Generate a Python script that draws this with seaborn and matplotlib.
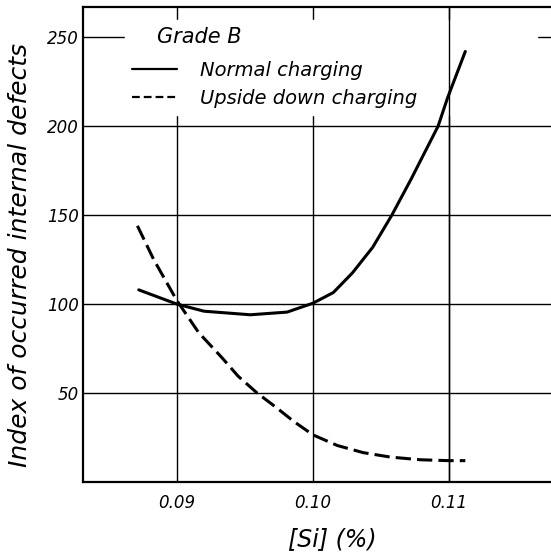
import matplotlib
matplotlib.use("Agg")
import matplotlib.pyplot as plt
from matplotlib.lines import Line2D
import numpy as np
import pandas as pd
import seaborn as sns

# ---- data ----
normal_si = [0.0872, 0.0900, 0.0920, 0.0954, 0.0981, 0.1000, 0.1015, 0.1029,
             0.1044, 0.1058, 0.1072, 0.1084, 0.1092, 0.1099, 0.1112]
normal_idx = [108, 100, 96, 94, 95.5, 100.5, 106.5, 117.5,
              132, 150, 170, 188, 200, 216, 242]

upside_si = [0.0871, 0.0883, 0.0900, 0.0916, 0.0933, 0.0945, 0.0959, 0.0972,
             0.0986, 0.1000, 0.1018, 0.1037, 0.1057, 0.1079, 0.1100, 0.1112]
upside_idx = [144, 125, 102, 84, 70, 59.5, 50, 42.5,
              34, 26.5, 20.5, 16.5, 14, 12.5, 12, 12]

series_names = ["Normal charging", "Upside down charging"]
legend_title = "Grade B"
x_ticks = [0.09, 0.10, 0.11]
x_tick_labels = ["0.09", "0.10", "0.11"]
y_ticks = [50, 100, 150, 200, 250]
y_tick_labels = ["50", "100", "150", "200", "250"]
x_label = "[Si] (%)"
y_label = "Index of occurred internal defects"

df = pd.concat([
    pd.DataFrame({"si": normal_si, "idx": normal_idx, "series": series_names[0]}),
    pd.DataFrame({"si": upside_si, "idx": upside_idx, "series": series_names[1]}),
], ignore_index=True)

sns.set_theme(style="white")
plt.rcParams['font.family'] = ['DejaVu Sans']
for key in ['text.color', 'axes.labelcolor', 'xtick.color', 'ytick.color']:
    plt.rcParams[key] = 'black'

fig = plt.figure(figsize=(5.51, 5.52), dpi=100)
ax = fig.add_axes([83 / 551, 70 / 552, 468 / 551, 475 / 552])

dash_style = {series_names[0]: "", series_names[1]: (5, 2.0)}
sns.lineplot(data=df, x="si", y="idx", style="series", dashes=dash_style,
             color="black", lw=2.2, legend=False, ax=ax, estimator=None,
             zorder=4)

ax.set_xlim(0.0831, 0.1175)
ax.set_ylim(0, 267)
ax.set_xticks(x_ticks)
ax.set_xticklabels(x_tick_labels, fontsize=12, style='italic')
ax.set_yticks(y_ticks)
ax.set_yticklabels(y_tick_labels, fontsize=12, style='italic')
ax.tick_params(axis='both', length=0, colors='black')
ax.tick_params(axis='x', pad=9)
ax.tick_params(axis='y', pad=3)

ax.grid(True, color='black', lw=1.0)
ax.set_axisbelow(True)
for side in ['left', 'bottom', 'top']:
    ax.spines[side].set_color('black')
    ax.spines[side].set_linewidth(1.6)
ax.spines['right'].set_visible(False)

ax.set_xlabel(x_label, fontsize=17, style='italic')
ax.set_ylabel(y_label, fontsize=18, style='italic')
ax.xaxis.set_label_coords(0.532, -0.095)
ax.yaxis.set_label_coords(-0.109, 0.478)

handles = [Line2D([], [], color='black', lw=1.6, ls='-'),
           Line2D([], [], color='black', lw=1.6, ls=(0, (3.5, 1.8)))]
leg = ax.legend(handles, series_names, title=legend_title,
                loc='upper left', bbox_to_anchor=(0.09, 0.766, 0.88, 0.207),
                mode='expand', frameon=True, facecolor='white',
                edgecolor='white', framealpha=1, fancybox=False,
                prop={'style': 'italic', 'size': 14},
                title_fontproperties={'style': 'italic', 'size': 15},
                handlelength=2.3, handletextpad=1.2, borderpad=0.35,
                labelspacing=0.5, alignment='left', borderaxespad=0)
leg.get_title().set_position((25, 0))
leg._legend_box.sep = 10
leg.set_zorder(3)

# the 0.11 grid line shows through the legend area in the reference
ax.axvline(x_ticks[2], color='black', lw=1.0, zorder=3.5)

fig.savefig("out.png", dpi=100)
